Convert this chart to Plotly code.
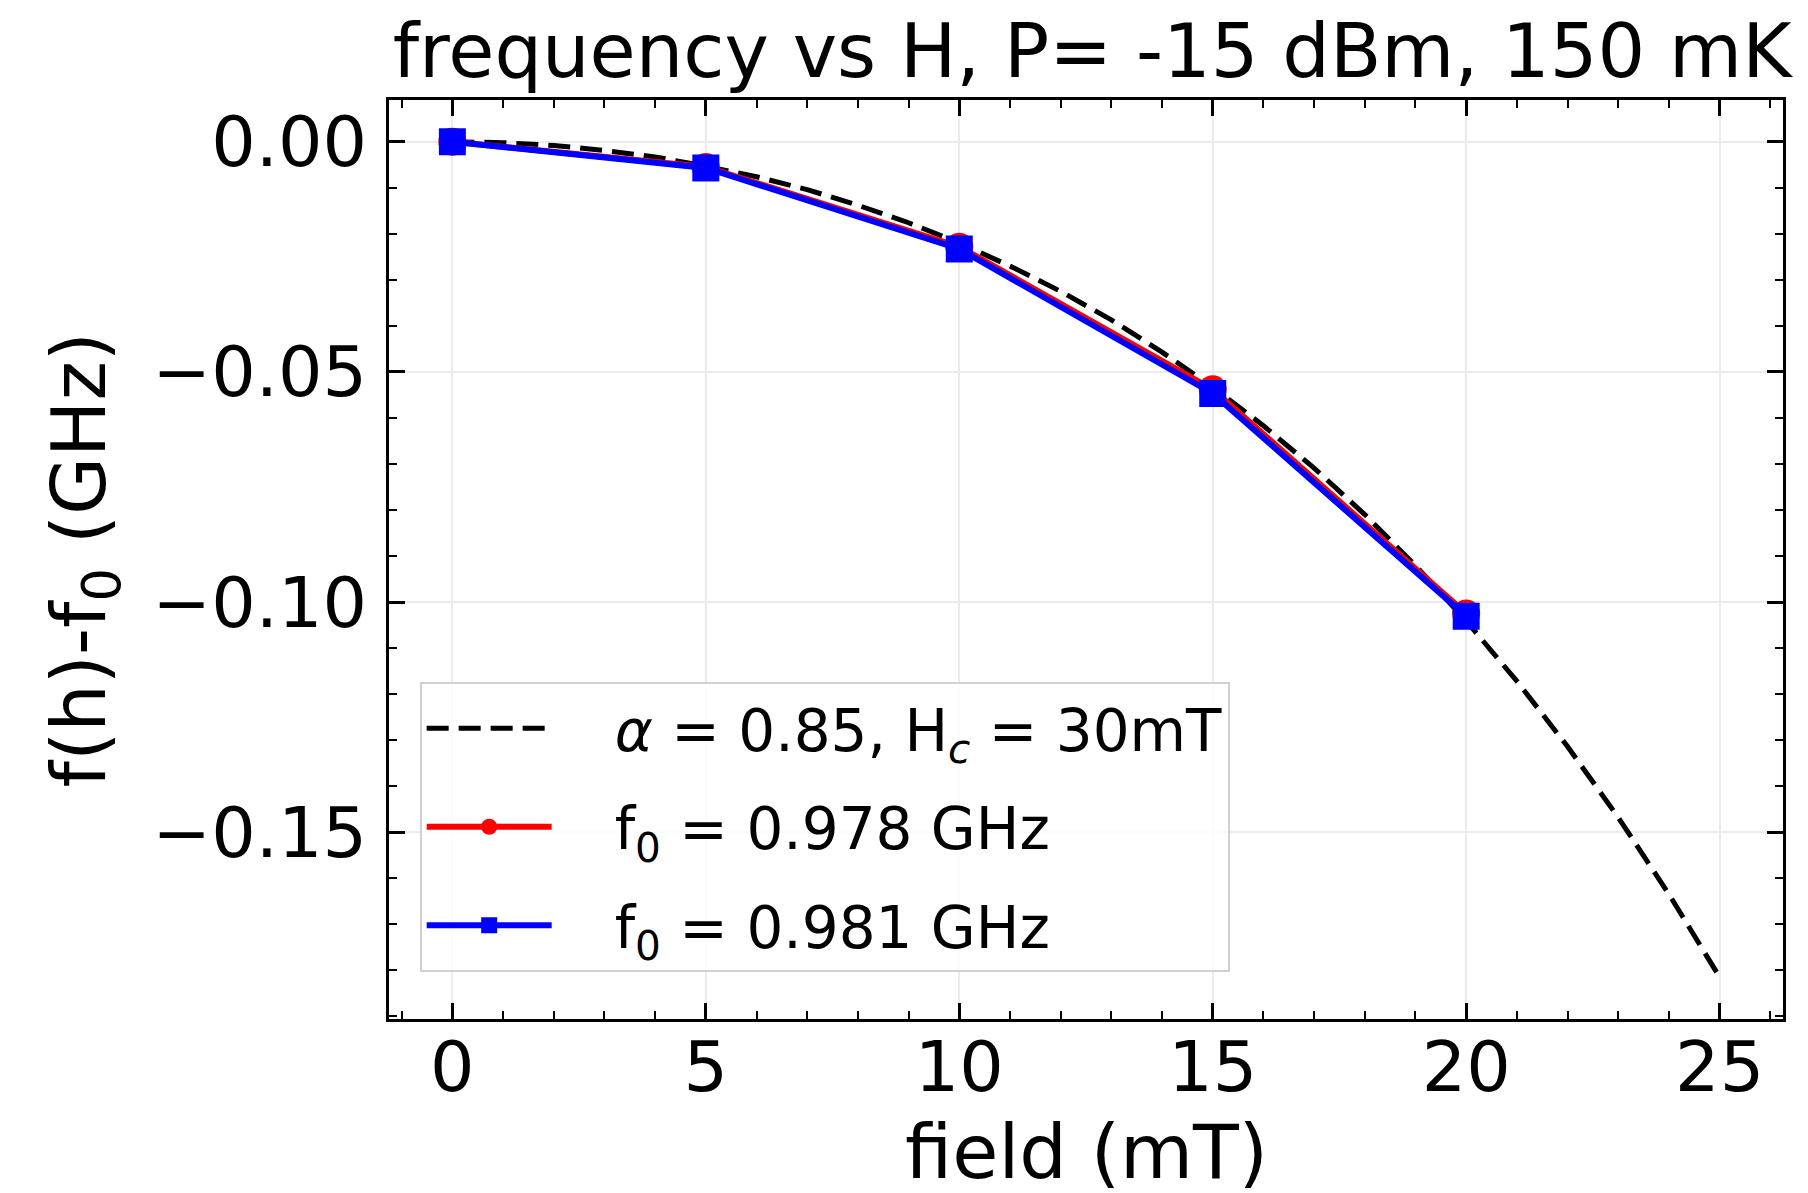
import plotly.graph_objects as go

# ---- data ----
field_mT = [0, 5, 10, 15, 20]
red_df = [0.0, -0.0055, -0.0228, -0.0538, -0.1025]      # f0 = 0.978 GHz
blue_df = [0.0, -0.0057, -0.0233, -0.0547, -0.1031]     # f0 = 0.981 GHz
red_err = [0.0008, 0.0008, 0.0008, 0.0008, 0.0008]
blue_err = [0.0008, 0.0008, 0.0008, 0.0008, 0.0008]

model_field = [0, 1, 2, 3, 4, 5, 6, 7, 8, 9, 10, 11, 12, 13, 14, 15, 16, 17, 18,
               19, 20, 21, 22, 23, 24, 25]
model_df = [0.0, -0.0002, -0.0008, -0.0019, -0.0033, -0.0053, -0.0076, -0.0104,
            -0.0138, -0.0176, -0.0220, -0.0270, -0.0325, -0.0387, -0.0457, -0.0533,
            -0.0617, -0.0709, -0.0810, -0.0921, -0.1041, -0.1172, -0.1314, -0.1468,
            -0.1635, -0.1815]

x_tickvals = [0, 5, 10, 15, 20, 25]
y_tickvals = [0.0, -0.05, -0.10, -0.15]
y_ticktext = ["0.00", "\u22120.05", "\u22120.10", "\u22120.15"]

title_text = "frequency vs H, P= -15 dBm, 150 mK"
x_label = "field (mT)"
y_label = "f(h)-f<sub>0</sub> (GHz)"
names = ["<i>\u03b1</i> = 0.85, H<sub><i>c</i></sub> = 30mT",
         "f<sub>0</sub> = 0.978 GHz",
         "f<sub>0</sub> = 0.981 GHz"]

FONT = "DejaVu Sans"
W, H = 1808, 1193
ML, MR, MT, MB = 381, 33, 92, 182
PAD = "\u2003"  # gap between legend symbol and legend text

fig = go.Figure()
fig.add_trace(go.Scatter(
    x=model_field, y=model_df, mode="lines", name=PAD + names[0], legendgroup="g0",
    line=dict(color="black", width=5, dash="22px,10px"),
))
fig.add_trace(go.Scatter(
    x=field_mT, y=red_df, mode="lines+markers", name=PAD + names[1], legendgroup="g1",
    line=dict(color="#ff0000", width=6),
    marker=dict(symbol="circle", size=28, color="#ff0000"),
    error_y=dict(type="data", array=red_err, color="#ff0000", thickness=3, width=0),
))
fig.add_trace(go.Scatter(
    x=field_mT, y=blue_df, mode="lines+markers", name=PAD + names[2], legendgroup="g2",
    line=dict(color="#0000ff", width=6),
    marker=dict(symbol="square", size=27, color="#0000ff"),
    error_y=dict(type="data", array=blue_err, color="#0000ff", thickness=3, width=0),
))

axis_common = dict(
    showline=True, linecolor="black", linewidth=3, mirror="allticks",
    ticks="inside", ticklen=16, tickwidth=2.5, tickcolor="black",
    showgrid=True, gridcolor="#ebebeb", gridwidth=1.5,
    zeroline=False,
    tickfont=dict(family=FONT, size=70, color="black"),
)

fig.update_xaxes(
    range=[-1.25, 26.25], tickvals=x_tickvals,
    minor=dict(dtick=1, ticks="inside", ticklen=8, tickwidth=2, tickcolor="black", showgrid=False),
    ticklabelstandoff=-15,
    **axis_common,
)
fig.update_yaxes(
    range=[-0.1906, 0.00907], tickvals=y_tickvals, ticktext=y_ticktext,
    minor=dict(dtick=0.01, tick0=0, ticks="inside", ticklen=8, tickwidth=2, tickcolor="black", showgrid=False),
    ticklabelstandoff=5,
    **axis_common,
)

fig.update_layout(
    width=W, height=H,
    margin=dict(l=ML, r=MR, t=MT, b=MB),
    paper_bgcolor="white", plot_bgcolor="white",
    font=dict(family=FONT, color="black"),
    title=dict(text=title_text, x=0.5 + 6 / (W - ML - MR), xref="paper", xanchor="center",
               y=1 - 43 / H, yref="container", yanchor="middle",
               font=dict(family=FONT, size=75, color="black")),
    showlegend=True,
    legend=dict(
        x=0.022, y=0.051, xanchor="left", yanchor="bottom",
        bgcolor="rgba(255,255,255,0.85)", bordercolor="#d0d0d0", borderwidth=2,
        font=dict(family=FONT, size=58, color="black"),
        itemwidth=125, tracegroupgap=20,
    ),
    annotations=[
        dict(text=x_label, xref="paper", yref="paper", x=0.5, y=0,
             xanchor="center", yanchor="middle", showarrow=False, yshift=-133,
             font=dict(family=FONT, size=75, color="black")),
        dict(text=y_label, xref="paper", yref="paper", x=0, y=0.5,
             xanchor="center", yanchor="middle", showarrow=False, textangle=-90,
             xshift=-306,
             font=dict(family=FONT, size=75, color="black")),
    ],
)

fig.write_html("out.html")
